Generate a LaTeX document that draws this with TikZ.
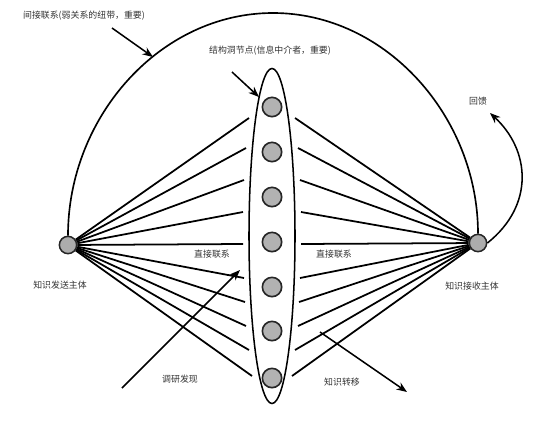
\documentclass[tikz,border=0pt]{standalone}
\usepackage{fontspec}
\newfontfamily\cjk{Noto Sans CJK SC}
\usetikzlibrary{arrows.meta,shapes.geometric}

\begin{document}
\begin{tikzpicture}[
  x=0.03cm, y=-0.03cm,
  actor/.style={circle, draw=black!85, fill=gray!65, line width=1.3pt, minimum size=0.52cm, inner sep=0pt},
  member/.style={circle, draw=black!85, fill=gray!60, line width=1.4pt, minimum size=0.58cm, inner sep=0pt},
  tie/.style={line width=1.5pt},
  lbl/.style={font=\cjk\fontsize{7.6}{8}\selectfont, text=black!80},
  pointer/.style={-{Stealth[length=9pt,width=7pt]}, line width=1.3pt},
  >=Stealth
]
\useasboundingbox (0,0) rectangle (539,423);

% actors and the group
\node[actor] (send) at (68,245) {};
\node[actor] (recv) at (478,243) {};
\node[ellipse, draw, line width=1.3pt, minimum width=1.38cm, minimum height=10.05cm, inner sep=0pt] (group) at (272,236) {};
\foreach \y [count=\i] in {107,152,197,242,287,331,378}
  \node[member] (m\i) at (272,\y) {};

% ends of the ties next to the group
\foreach \xl/\xr/\y [count=\i] in {249/295/118, 246/298/148, 244/300/180, 243/301/212, 243/301/244,
                                   244/300/278, 245/299/302, 246/298/326, 249/295/350, 252/292/376} {
  \coordinate (l\i) at (\xl,\y);
  \coordinate (r\i) at (\xr,\y);
}
\foreach \i in {1,...,10} {
  \draw[tie] (send) -- (l\i);
  \draw[tie] (recv) -- (r\i);
}

% indirect tie over the top
\draw[line width=1.4pt] (send.north) .. controls (68,117) and (160,13) .. (273,13)
  .. controls (386,13) and (478,117) .. (recv.north);

% feedback
\coordinate (fb) at (490,113);
\draw[pointer] (recv.east) .. controls (535,205) and (530,150) .. (fb);
\node[lbl] (fbl) at (478,101) {回馈};

% pointers
\coordinate (p1) at (112,28);
\coordinate (p1e) at (153,57);
\draw[pointer] (p1) -- (p1e);
\coordinate (p2) at (232,72);
\coordinate (p2e) at (259,97);
\draw[pointer] (p2) -- (p2e);
\coordinate (p3) at (122,388);
\coordinate (p3e) at (240,270);
\draw[pointer] (p3) -- (p3e);
\coordinate (p4) at (320,332);
\coordinate (p4e) at (407,392);
\draw[pointer] (p4) -- (p4e);

% labels
\node[lbl] (top) at (84,16) {间接联系(弱关系的纽带，重要)};
\node[lbl] (mid) at (270,51) {结构洞节点(信息中介者，重要)};
\node[lbl] (sendl) at (60,285) {知识发送主体};
\node[lbl] (recvl) at (472,286) {知识接收主体};
\node[lbl] (tiel) at (212,254) {直接联系};
\node[lbl] (tier) at (334,254) {直接联系};
\node[lbl] (find) at (180,379) {调研发现};
\node[lbl] (move) at (342,382) {知识转移};
\end{tikzpicture}
\end{document}
